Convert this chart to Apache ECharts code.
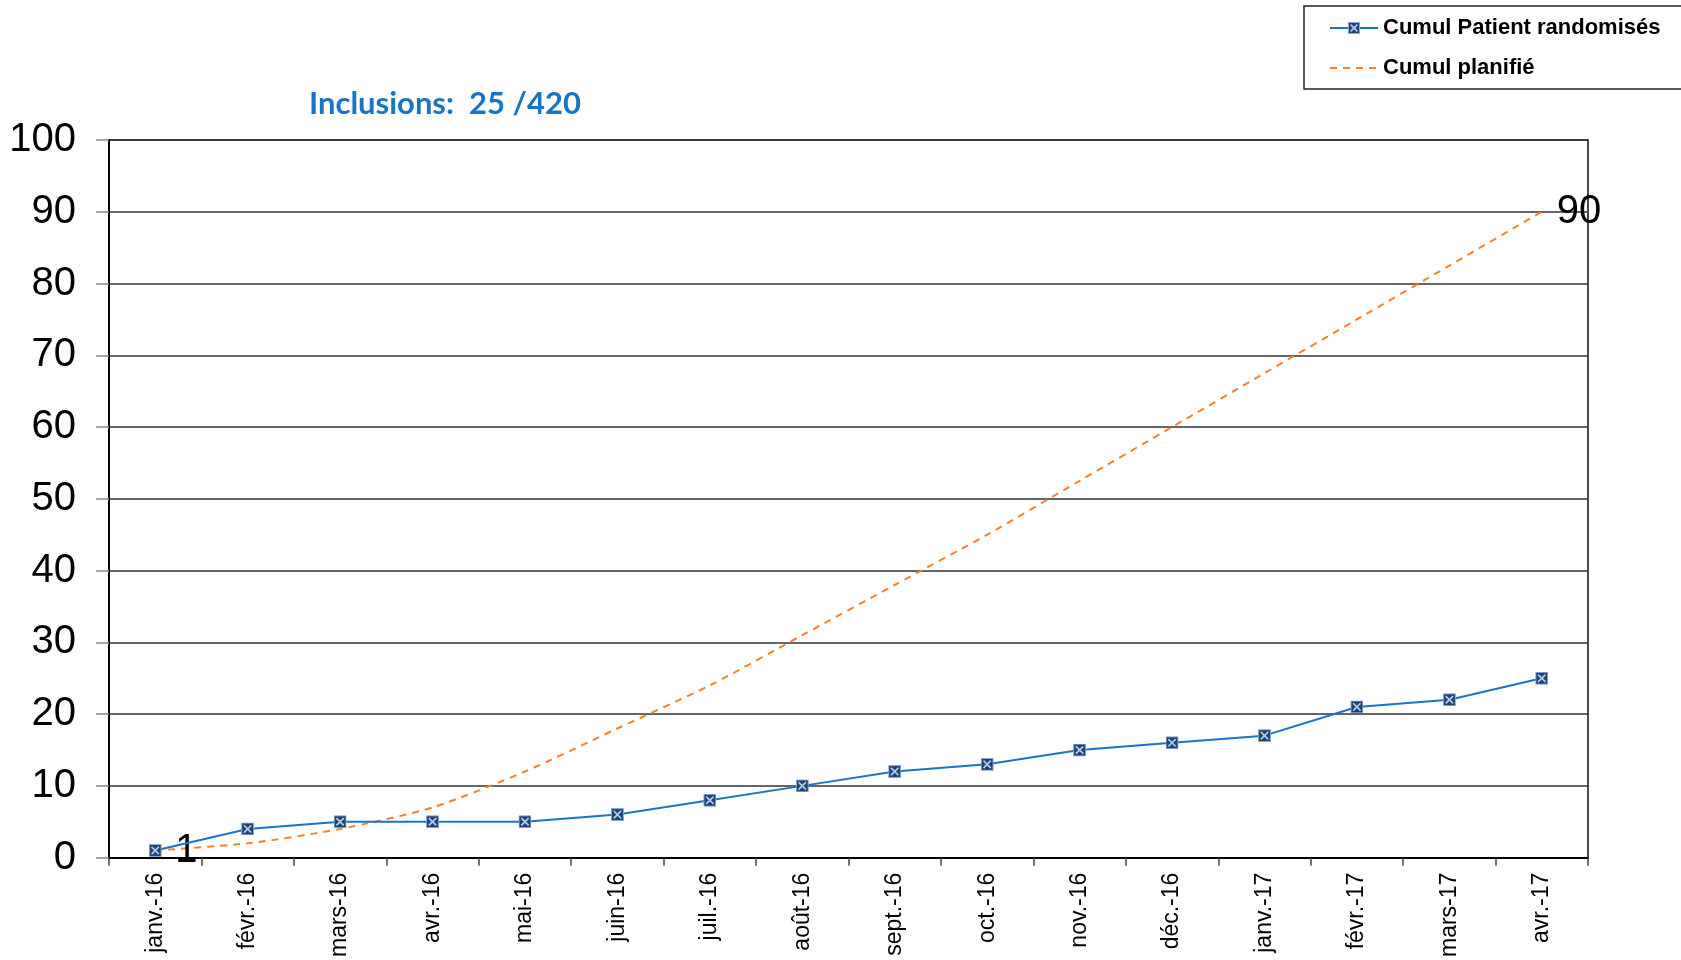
<!DOCTYPE html>
<html>
<head>
<meta charset="utf-8">
<title>Inclusions</title>
<script src="https://cdn.jsdelivr.net/npm/echarts@6/dist/echarts.min.js"></script>
<style>
  html, body { margin: 0; padding: 0; background: #fff; }
  #chart { width: 1681px; height: 960px; }
</style>
</head>
<body>
<div id="chart"></div>
<script>
// months on the x axis
const months = ['janv.-16', 'févr.-16', 'mars-16', 'avr.-16', 'mai-16', 'juin-16', 'juil.-16', 'août-16',
  'sept.-16', 'oct.-16', 'nov.-16', 'déc.-16', 'janv.-17', 'févr.-17', 'mars-17', 'avr.-17']

// cumulative randomised patients
const randomises = [1, 4, 5, 5, 5, 6, 8, 10, 12, 13, 15, 16, 17, 21, 22, 25]

// cumulative planned
const planifie = [1, 2, 4, 7, 12, 18, 24, 31, 38, 45, 52.5, 60, 67.5, 75, 82.5, 90]

const yTicks = { min: 0, max: 100, interval: 10 }
const titleText = 'Inclusions:  25 /420'

const markerSvg = '<svg xmlns="http://www.w3.org/2000/svg" width="12" height="12" viewBox="0 0 12 12">' +
  '<rect x="0.5" y="0.5" width="11" height="11" fill="#24406b" stroke="#7ea9db" stroke-width="1"/>' +
  '<path d="M2.6 2.6L9.4 9.4M9.4 2.6L2.6 9.4" stroke="#a9ccf2" stroke-width="1.6"/></svg>'
const marker = 'image://data:image/svg+xml;charset=utf-8,' + encodeURIComponent(markerSvg)

// only the first and last planned points carry a value label
const last = planifie.length - 1
const planData = planifie.map((v, i) => {
  if (i === 0) {
    return { value: v, label: { show: true, distance: 19 } }
  }
  if (i === last) {
    return { value: v, label: { show: true } }
  }
  return v
})

const chart = echarts.init(document.getElementById('chart'))

const option = {
  animation: false,
  backgroundColor: '#fff',
  title: {
    text: titleText,
    left: 309,
    top: 88,
    padding: 0,
    textStyle: {
      fontFamily: 'Lato',
      fontWeight: 'bold',
      fontSize: 31,
      color: '#1874c4'
    }
  },
  legend: {
    orient: 'vertical',
    left: 1324,
    top: 12,
    itemWidth: 48,
    itemHeight: 15,
    itemGap: 18,
    textStyle: {
      fontFamily: 'Liberation Sans',
      fontWeight: 'bold',
      fontSize: 22,
      color: '#000',
      lineHeight: 22
    },
    data: ['Cumul Patient randomisés', 'Cumul planifié']
  },
  graphic: [{
    type: 'rect',
    shape: { x: 1304, y: 6, width: 400, height: 83 },
    style: { fill: 'none', stroke: '#222', lineWidth: 1.5 },
    z: -1
  }],
  grid: {
    left: 109,
    right: 93,
    top: 140,
    bottom: 100,
    show: true,
    borderColor: '#111',
    borderWidth: 1.5
  },
  xAxis: {
    type: 'category',
    data: months,
    boundaryGap: true,
    axisLine: { lineStyle: { color: '#000', width: 2 } },
    axisTick: { show: true, length: 8, lineStyle: { color: '#444', width: 1.5 } },
    axisLabel: {
      rotate: 90,
      margin: 15,
      fontFamily: 'Liberation Sans',
      fontSize: 23,
      color: '#000',
      interval: 0
    }
  },
  yAxis: {
    type: 'value',
    min: yTicks.min,
    max: yTicks.max,
    interval: yTicks.interval,
    axisLine: { show: true, lineStyle: { color: '#000', width: 2 } },
    axisTick: { show: true, length: 13, lineStyle: { color: '#888', width: 1.5 } },
    axisLabel: {
      margin: 33,
      fontFamily: 'Liberation Sans',
      fontSize: 40,
      color: '#000'
    },
    splitLine: { lineStyle: { color: '#333', width: 1.5 } }
  },
  series: [
    {
      name: 'Cumul planifié',
      type: 'line',
      data: planData,
      smooth: 0.25,
      symbol: 'circle',
      symbolSize: 2,
      showSymbol: true,
      lineStyle: { color: '#ff7f27', width: 2, type: [7, 6] },
      itemStyle: { color: 'rgba(0,0,0,0)' },
      label: {
        show: false,
        position: 'right',
        distance: 14,
        fontFamily: 'Liberation Sans',
        fontSize: 40,
        color: '#000'
      },
      z: 2
    },
    {
      name: 'Cumul Patient randomisés',
      type: 'line',
      data: randomises,
      symbol: marker,
      symbolSize: 13,
      lineStyle: { color: '#1a75c9', width: 2 },
      itemStyle: { color: '#24406b' },
      z: 3
    }
  ]
}

chart.setOption(option)
</script>
</body>
</html>
